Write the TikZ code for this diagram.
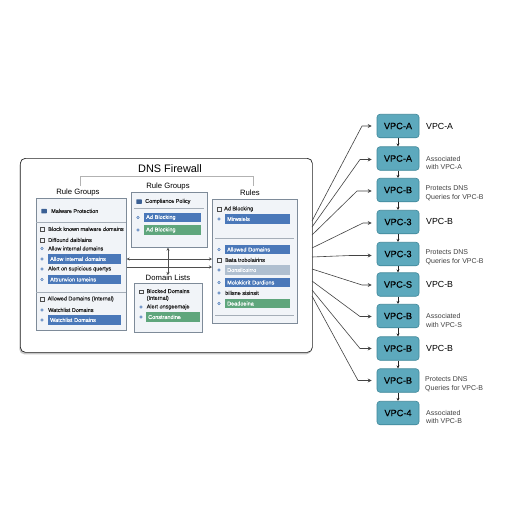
\documentclass[tikz,border=0pt]{standalone}
\usepackage{fontspec}
\setmainfont{Liberation Sans}
\newfontfamily\semifont[FakeBold=0.15]{Liberation Sans}
\usetikzlibrary{arrows.meta,shadows}
\definecolor{tealbox}{HTML}{5DA9BD}
\definecolor{tealedge}{HTML}{3F8799}
\definecolor{bluebar}{HTML}{4A78B9}
\definecolor{greenbar}{HTML}{5FA67C}
\definecolor{greybar}{HTML}{AFBFD0}
\definecolor{panelfill}{HTML}{F1F4F8}
\definecolor{paneledge}{HTML}{7E8B99}
\definecolor{inkdark}{HTML}{222222}
\tikzset{
  x=1pt,y=-1pt,
  mainpanel/.style={draw=inkdark,line width=0.7pt,fill=white,rounded corners=5pt,anchor=north west,inner sep=0pt,
    general shadow={fill=black,opacity=0.22,shadow xshift=-1pt,shadow yshift=-2pt}},
  subpanel/.style={draw=paneledge,line width=0.7pt,fill=panelfill,anchor=north west,inner sep=0pt},
  heading/.style={font=\fontsize{7.7}{9}\selectfont,text=black,inner sep=0pt},
  itemtext/.style={font=\semifont\fontsize{5.5}{6.8}\selectfont,text=inkdark,inner sep=0pt,anchor=west,align=left},
  barbase/.style={anchor=west,inner sep=0pt,minimum height=9.5pt,text=white,
    font=\semifont\fontsize{5.5}{6.8}\selectfont,align=left},
  bluecell/.style={barbase,fill=bluebar},
  greencell/.style={barbase,fill=greenbar},
  greycell/.style={barbase,fill=greybar},
  dotmark/.style={circle,draw=bluebar,fill=panelfill,line width=0.6pt,minimum size=2.4pt,inner sep=0pt},
  boxmark/.style={rectangle,draw=inkdark!80,line width=0.4pt,minimum width=4pt,minimum height=3.4pt,inner sep=0pt},
  iconmark/.style={rectangle,rounded corners=0.5pt,fill=bluebar!80!black,minimum width=5.5pt,minimum height=4.5pt,inner sep=0pt},
  vpc/.style={rectangle,rounded corners=3pt,draw=tealedge,line width=0.6pt,fill=tealbox,minimum width=42pt,minimum height=23.5pt,
    inner sep=0pt,font=\semifont\fontsize{9.2}{10}\selectfont,text=black},
  biglabel/.style={font=\fontsize{8.8}{10}\selectfont,anchor=west,inner sep=0pt,text=black},
  smalllabel/.style={font=\fontsize{7}{8.7}\selectfont,anchor=west,inner sep=0pt,align=left,text=black!75},
  chainarrow/.style={draw=inkdark,line width=0.6pt,-{Stealth[length=3pt,width=3pt]}},
  feedarrow/.style={draw=inkdark!85,line width=0.6pt,-{Stealth[length=4pt,width=4pt]},shorten >=5pt},
  linkarrow/.style={draw=inkdark!80,line width=0.5pt,-{Stealth[length=3pt,width=3pt]}},
  dividerline/.style={draw=paneledge!70,line width=0.5pt},
}
\begin{document}
\begin{tikzpicture}
\useasboundingbox (0,0) rectangle (512,512);
\fill[white] (0,0) rectangle (512,512);

% main panel
\node[mainpanel,minimum width=292pt,minimum height=194pt] (main) at (20,158) {};
\node[font=\fontsize{10.9}{12}\selectfont,inner sep=0pt] (title) at (170,168.5) {DNS Firewall};
\coordinate (brL) at (80,186);
\coordinate (brR) at (253,186);
\draw[draw=black!30,line width=0.6pt] (brL) -- (80,176) -- (253,176) -- (brR);

% left rule groups
\node[heading] (hA) at (78,193) {Rule Groups};
\node[subpanel,minimum width=90pt,minimum height=132pt] (pA) at (36,198) {};
\draw[dividerline] (36,222) -- (126,222);
\draw[dividerline] (36,292) -- (126,292);
\node[iconmark] (a0i) at (44,211) {};
\node[itemtext] (a0) at (51,211) {Malware Protection};
\node[boxmark] (a1i) at (42.5,229) {};
\node[itemtext] (a1) at (48,229) {Block known malware domains};
\node[boxmark] (a2i) at (42.5,240) {};
\node[itemtext] (a2) at (48,240) {Diffound daiblains};
\node[dotmark] (a3i) at (42,248.5) {};
\node[itemtext] (a3) at (48,248.5) {Allow internal domains};
\node[dotmark] (a4i) at (42,259) {};
\node[bluecell,text width=73pt] (a4) at (48,259) {\hspace{2pt}Allow internal domains};
\node[dotmark] (a5i) at (42,269) {};
\node[itemtext] (a5) at (48,269) {Alert on supicious quertys};
\node[dotmark] (a6i) at (42,279.5) {};
\node[bluecell,text width=73pt] (a6) at (48,279.5) {\hspace{2pt}Attrunvion tomeins};
\node[boxmark] (a7i) at (42.5,299) {};
\node[itemtext] (a7) at (47.5,299) {Allowed Domains (Internal)};
\node[dotmark] (a8i) at (42,310) {};
\node[itemtext] (a8) at (48,310) {Watchlist Domains};
\node[dotmark] (a9i) at (42,320) {};
\node[bluecell,text width=73pt] (a9) at (48,320) {\hspace{2pt}Watchlist Domains};

% middle top rule groups
\node[heading] (hB) at (168,187) {Rule Groups};
\node[subpanel,minimum width=76pt,minimum height=55pt] (pB) at (131,192) {};
\draw[dividerline] (134,208.5) -- (204,208.5);
\node[iconmark] (b0i) at (139,201.5) {};
\node[itemtext] (b0) at (145,201.5) {Compliance Policy};
\node[dotmark] (b1i) at (138,217.5) {};
\node[bluecell,text width=57pt] (b1) at (144,217.5) {\hspace{2pt}Ad Blocking};
\node[dotmark] (b2i) at (138,230) {};
\node[greencell,text width=57pt] (b2) at (144,230) {\hspace{2pt}Ad Blocking};

% domain lists
\node[heading] (hC) at (168,277.5) {Domain Lists};
\node[subpanel,minimum width=68pt,minimum height=49pt] (pC) at (134,283) {};
\node[boxmark] (c0i) at (141,291.5) {};
\node[itemtext] (c0) at (146.5,295) {Blocked Domains\\(Internal)};
\node[dotmark] (c1i) at (141,307) {};
\node[itemtext] (c1) at (146.5,307) {Alert onsgeemaje};
\node[dotmark] (c2i) at (141,317) {};
\node[greencell,text width=54pt] (c2) at (146,317) {\hspace{2pt}Constrandine};

% rules
\node[heading] (hD) at (250,193) {Rules};
\node[subpanel,minimum width=85pt,minimum height=124pt] (pD) at (212,199) {};
\node[boxmark] (d0i) at (219,209) {};
\node[itemtext] (d0) at (224,209) {Ad Blocking};
\node[dotmark] (d1i) at (219,219) {};
\node[bluecell,text width=65pt] (d1) at (225,219) {\hspace{2pt}Mirwsiels};
\draw[dividerline] (215,238) -- (294,238);
\node[dotmark] (d2i) at (219,249.5) {};
\node[bluecell,text width=65pt] (d2) at (225,249.5) {\hspace{2pt}Allowed Domains};
\node[boxmark] (d3i) at (219,260) {};
\node[itemtext] (d3) at (225,260) {Bata trobolairins};
\node[dotmark] (d4i) at (219,270) {};
\node[greycell,text width=65pt] (d4) at (225,270) {\hspace{2pt}Donsilcoirro};
\node[dotmark] (d5i) at (219,282.5) {};
\node[bluecell,text width=65pt] (d5) at (225,282.5) {\hspace{2pt}Molokicrit Dordions};
\node[dotmark] (d6i) at (219,293) {};
\node[itemtext] (d6) at (225,293) {bilisne sisinsit};
\node[dotmark] (d7i) at (219,303.5) {};
\node[greencell,text width=65pt] (d7) at (225,303.5) {\hspace{2pt}Deadoeina};
\draw[dividerline] (215,315) -- (294,315);

% links between panels
\coordinate (lnkL) at (pA.east |- 0,259);
\coordinate (lnkR) at (pD.west |- 0,259);
\coordinate (lnkM) at (168,259);
\coordinate (lowL) at (pA.east |- 0,267);
\coordinate (lowR) at (pD.west |- 0,267);
\draw[linkarrow,{Stealth[length=3pt,width=3pt]}-{Stealth[length=3pt,width=3pt]}] (lnkL) -- (lnkR);
\draw[linkarrow] (lowL) -- (lowR);
\draw[linkarrow] (lnkM) -- (pB.south -| lnkM);
\draw[linkarrow] (lnkM) -- (168,275);

% VPC column
\node[vpc] (v1) at (398,126) {VPC-A};
\node[vpc] (v2) at (398,158.5) {VPC-A};
\node[vpc] (v3) at (398,190) {VPC-B};
\node[vpc] (v4) at (398,222) {VPC-3};
\node[vpc] (v5) at (398,254) {VPC-3};
\node[vpc] (v6) at (398,284.5) {VPC-S};
\node[vpc] (v7) at (398,316) {VPC-B};
\node[vpc] (v8) at (398,348.5) {VPC-B};
\node[vpc] (v9) at (398,380.5) {VPC-B};
\node[vpc] (v10) at (398,413) {VPC-4};
\foreach \a/\b in {v1/v2,v2/v3,v3/v4,v4/v5,v5/v6,v6/v7,v7/v8,v8/v9,v9/v10}
  \draw[chainarrow] (\a) -- (\b);

\node[biglabel] (l1) at (426,126) {VPC-A};
\node[smalllabel] (l2) at (426,163) {Associated\\with VPC-A};
\node[smalllabel] (l3) at (425.5,193.5) {Protects DNS\\Queries for VPC-B};
\node[biglabel] (l4) at (426,221.5) {VPC-B};
\node[smalllabel] (l5) at (425.5,257) {Protects DNS\\Queries for VPC-B};
\node[biglabel] (l6) at (426,284) {VPC-B};
\node[smalllabel] (l7) at (426,320.5) {Associated\\with VPC-S};
\node[biglabel] (l8) at (426,348.5) {VPC-B};
\node[smalllabel] (l9) at (425,384) {Protects DNS\\Queries for VPC-B};
\node[smalllabel] (l10) at (426,417) {Associated\\with VPC-B};

% feeds from main panel
\coordinate (s1) at (312,221);
\coordinate (s2) at (312,227);
\coordinate (s3) at (312,235);
\coordinate (s4) at (312,248);
\coordinate (s5) at (312,257);
\coordinate (s6) at (312,269);
\coordinate (s7) at (312,281);
\coordinate (s8) at (312,290);
\coordinate (s9) at (312,296);
\draw[feedarrow] (s1) -- (362,126) -- (v1.west);
\draw[feedarrow] (s2) -- (360,159.5) -- (v2.west |- 0,159.5);
\draw[feedarrow] (s3) -- (357,191) -- (v3.west |- 0,191);
\draw[feedarrow] (s4) -- (363,223) -- (v4.west |- 0,223);
\draw[feedarrow] (s5) -- (350,255.5) -- (v5.west |- 0,255.5);
\draw[feedarrow] (s6) -- (362,285) -- (v6.west |- 0,285);
\draw[feedarrow] (s7) -- (360,316.5) -- (v7.west |- 0,316.5);
\draw[feedarrow] (s8) -- (360,348.5) -- (v8.west |- 0,348.5);
\draw[feedarrow] (s9) -- (358,380.5) -- (v9.west |- 0,380.5);
\end{tikzpicture}
\end{document}
